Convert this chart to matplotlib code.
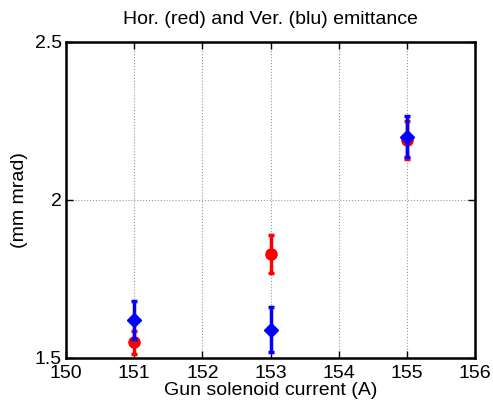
import matplotlib.pyplot as plt

current = [151, 153, 155]
emit_h = [1.55, 1.83, 2.19]
err_h = [0.036, 0.06, 0.06]
emit_v = [1.62, 1.59, 2.20]
err_v = [0.06, 0.07, 0.065]

plt.rcParams['font.family'] = ['Liberation Sans', 'DejaVu Sans']

fig = plt.figure(figsize=(4.93, 4.03), dpi=100)
ax = fig.add_axes([0.134, 0.1117, 0.8295, 0.7841])

ax.errorbar(current, emit_h, yerr=err_h, fmt='o', color='red', ms=8,
            elinewidth=2.5, capsize=2.5, capthick=2.5, zorder=3)
ax.errorbar(current, emit_v, yerr=err_v, fmt='D', color='blue', ms=7,
            elinewidth=2.5, capsize=2.5, capthick=2.5, zorder=4)

ax.set_xlim(150, 156)
ax.set_ylim(1.5, 2.5)
ax.set_xticks([150, 151, 152, 153, 154, 155, 156])
ax.set_yticks([1.5, 2, 2.5])
ax.set_yticklabels(['1.5', '2', '2.5'])
ax.grid(True, linestyle=':', color='#999999', linewidth=0.8)
ax.tick_params(direction='in', top=True, right=True, labelsize=14,
               length=5, width=1)
ax.tick_params(axis='x', pad=5)
ax.tick_params(axis='y', pad=3)
for s in ax.spines.values():
    s.set_linewidth(1.8)

ax.set_xlabel('Gun solenoid current (A)', fontsize=14, labelpad=0)
ax.set_ylabel('(mm mrad)', fontsize=14, labelpad=5)
ax.set_title('Hor. (red) and Ver. (blu) emittance', fontsize=14, pad=13)

fig.savefig('out.png', dpi=100)
